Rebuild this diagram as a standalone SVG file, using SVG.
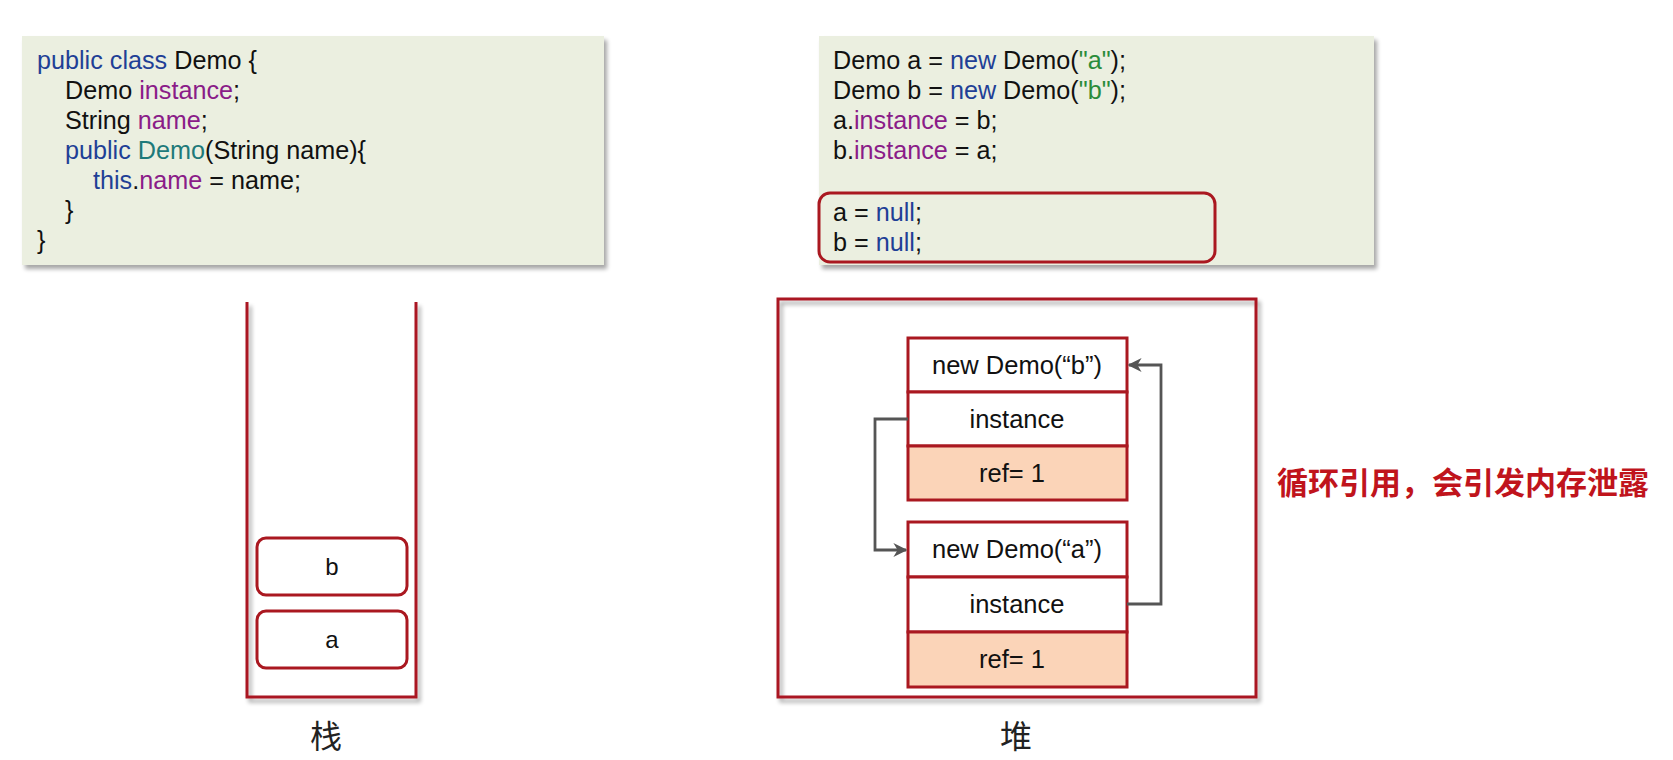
<svg xmlns="http://www.w3.org/2000/svg" width="1673" height="760" viewBox="0 0 1673 760">
<style>
text{font-family:"Liberation Sans",Arial,"Noto Sans CJK SC",sans-serif;fill:#111}
.code{font-size:25.2px}
.kw{fill:#1f3f96}
.fd{fill:#8a1c88}
.ct{fill:#1e7a7a}
.st{fill:#2a8c3a}
.box{font-size:25.5px;text-anchor:middle}
.sbox{font-size:24px;text-anchor:middle}
.cjk{font-family:"Noto Sans CJK SC","Noto Sans CJK TC",sans-serif;font-size:32px;text-anchor:middle;fill:#222}
.red{stroke:#aa1820;stroke-width:3;fill:none}
.cell{stroke:#aa1820;stroke-width:3;fill:#fff}
.ref{stroke:#aa1820;stroke-width:3;fill:#fbd4b8}
.conn{stroke:#555;stroke-width:2.8;fill:none}
</style>
<defs>
<filter id="sh" x="-5%" y="-5%" width="115%" height="120%">
<feGaussianBlur in="SourceAlpha" stdDeviation="2"/>
<feOffset dx="3" dy="4" result="o"/>
<feComponentTransfer><feFuncA type="linear" slope="0.35"/></feComponentTransfer>
<feMerge><feMergeNode/><feMergeNode in="SourceGraphic"/></feMerge>
</filter>
<marker id="arr" viewBox="0 0 10 10" refX="9" refY="5" markerWidth="5" markerHeight="5" orient="auto" markerUnits="strokeWidth">
<path d="M0,0 L10,5 L0,10 L3,5 Z" fill="#555"/>
</marker>
</defs>
<rect width="1673" height="760" fill="#fff"/>

<g id="class-code">
<rect x="22" y="36" width="582" height="229" fill="#ebefe0" filter="url(#sh)"/>
<text class="code" x="37" y="69"><tspan class="kw">public class</tspan> Demo {</text>
<text class="code" x="65" y="99">Demo <tspan class="fd">instance</tspan>;</text>
<text class="code" x="65" y="129">String <tspan class="fd">name</tspan>;</text>
<text class="code" x="65" y="159"><tspan class="kw">public</tspan> <tspan class="ct">Demo</tspan>(String name){</text>
<text class="code" x="93" y="189"><tspan class="kw">this</tspan>.<tspan class="fd">name</tspan> = name;</text>
<text class="code" x="65" y="219">}</text>
<text class="code" x="37" y="249">}</text>
</g>

<g id="main-code">
<rect x="819" y="36" width="555" height="229" fill="#ebefe0" filter="url(#sh)"/>
<text class="code" x="833" y="69">Demo a = <tspan class="kw">new</tspan> Demo(<tspan class="st">"a"</tspan>);</text>
<text class="code" x="833" y="99">Demo b = <tspan class="kw">new</tspan> Demo(<tspan class="st">"b"</tspan>);</text>
<text class="code" x="833" y="129">a.<tspan class="fd">instance</tspan> = b;</text>
<text class="code" x="833" y="159">b.<tspan class="fd">instance</tspan> = a;</text>
<rect x="819" y="193" width="396" height="69" rx="11" class="red" stroke-width="2.5"/>
<text class="code" x="833" y="221">a = <tspan class="kw">null</tspan>;</text>
<text class="code" x="833" y="251">b = <tspan class="kw">null</tspan>;</text>
</g>

<g id="stack">
<path d="M247,302 V697 H416 V302" class="red" filter="url(#sh)"/>
<text class="cjk" x="326" y="748">栈</text>
</g>
<g id="stack-b">
<rect x="257" y="538" width="150" height="57" rx="9" class="cell" stroke-width="2.5"/>
<text class="sbox" x="332" y="575">b</text>
</g>
<g id="stack-a">
<rect x="257" y="611" width="150" height="57" rx="9" class="cell" stroke-width="2.5"/>
<text class="sbox" x="332" y="648">a</text>
</g>

<g id="heap">
<rect x="778" y="299" width="478" height="398" class="red" fill="#fff" filter="url(#sh)"/>
<text class="cjk" x="1016" y="748">堆</text>
</g>

<g id="obj-b">
<rect x="908" y="338" width="219" height="54" class="cell"/>
<rect x="908" y="392" width="219" height="54" class="cell"/>
<rect x="908" y="446" width="219" height="54" class="ref"/>
<text class="box" x="1017" y="374">new Demo(“b”)</text>
<text class="box" x="1017" y="428">instance</text>
<text class="box" x="1012" y="482">ref= 1</text>
</g>

<g id="obj-a">
<rect x="908" y="522" width="219" height="55" class="cell"/>
<rect x="908" y="577" width="219" height="55" class="cell"/>
<rect x="908" y="632" width="219" height="55" class="ref"/>
<text class="box" x="1017" y="558">new Demo(“a”)</text>
<text class="box" x="1017" y="613">instance</text>
<text class="box" x="1012" y="668">ref= 1</text>
</g>

<g id="connectors">
<path d="M908,419 H875 V550 H906" class="conn" marker-end="url(#arr)"/>
<path d="M1127,604 H1161 V365 H1129" class="conn" marker-end="url(#arr)"/>
</g>

<g id="note">
<text x="1277" y="494" style="font-family:'Noto Sans CJK SC','Noto Sans CJK TC',sans-serif;font-size:31px;font-weight:bold;fill:#c0141c">循环引用，会引发内存泄露</text>
</g>
</svg>
